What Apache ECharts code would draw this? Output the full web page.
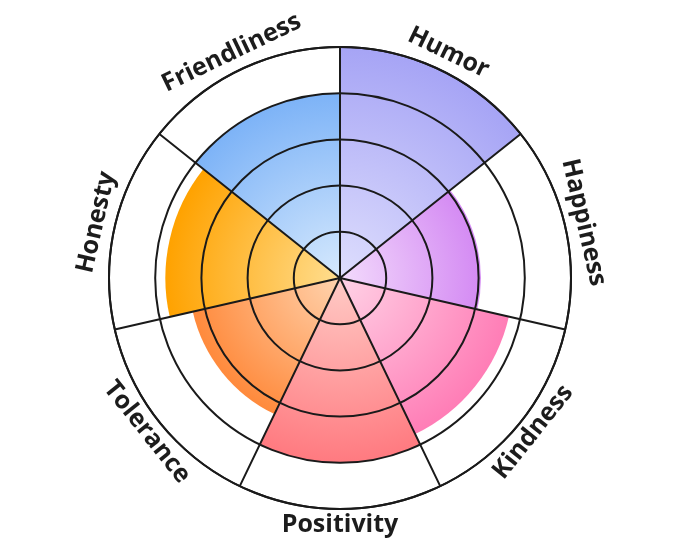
<!DOCTYPE html>
<html>
<head>
<meta charset="utf-8">
<script src="https://cdn.jsdelivr.net/npm/echarts@6/dist/echarts.min.js"></script>
<style>
html,body{margin:0;padding:0;background:#ffffff;}
#chart{width:680px;height:557px;}
</style>
</head>
<body>
<div id="chart"></div>
<script>
const categories = ['Humor', 'Happiness', 'Kindness', 'Positivity', 'Tolerance', 'Honesty', 'Friendliness'];
const values = [5, 3.05, 3.75, 4, 3.27, 3.78, 4];
const radiusMax = 5;
const innerColors = ['#dedefd', '#f3dbfc', '#ffd2e6', '#ffcbc6', '#ffd3ae', '#ffde90', '#d6e9fd'];
const outerColors = ['#a6a4f5', '#d48af3', '#ff7db6', '#ff7a80', '#ff8a3c', '#ffa200', '#7db3f7'];

const CX = 340, CY = 278, R = 231;
const chart = echarts.init(document.getElementById('chart'));

const barData = values.map((v, i) => ({
  value: v,
  itemStyle: {
    color: {
      type: 'radial', x: CX, y: CY, r: v / radiusMax * R, global: true,
      colorStops: [
        { offset: 0, color: innerColors[i] },
        { offset: 1, color: outerColors[i] }
      ]
    }
  }
}));

const lineStyle = { color: '#1a1a1a', width: 2 };

chart.setOption({
  backgroundColor: '#ffffff',
  animation: false,
  polar: { center: [CX, CY], radius: R },
  angleAxis: {
    type: 'category',
    data: categories,
    startAngle: 90,
    clockwise: true,
    z: 10,
    axisLine: { show: true, lineStyle: lineStyle },
    axisTick: { show: false },
    axisLabel: { show: false },
    splitLine: { show: true, lineStyle: lineStyle }
  },
  radiusAxis: {
    type: 'value',
    min: 0,
    max: radiusMax,
    interval: 1,
    z: 10,
    axisLine: { show: false },
    axisTick: { show: false },
    axisLabel: { show: false },
    splitLine: { show: true, lineStyle: lineStyle }
  },
  series: [
    {
      type: 'bar',
      coordinateSystem: 'polar',
      barCategoryGap: '0%',
      data: barData,
      z: 2
    },
    {
      type: 'custom',
      coordinateSystem: 'polar',
      z: 20,
      silent: true,
      data: categories.map(c => [radiusMax, c]),
      renderItem: function (params, api) {
        const idx = params.dataIndex;
        const p = api.coord([api.value(0), idx]);
        const cs = params.coordSys;
        const theta = Math.atan2(cs.cy - p[1], p[0] - cs.cx);
        const up = Math.sin(theta) >= 0;
        const dist = cs.r + (up ? 19 : 16);
        const x = cs.cx + dist * Math.cos(theta);
        const y = cs.cy - dist * Math.sin(theta);
        const rotation = up ? theta - Math.PI / 2 : theta + Math.PI / 2;
        return {
          type: 'text',
          x: x, y: y,
          rotation: rotation,
          style: {
            text: categories[idx],
            x: 0, y: 0,
            fill: '#1c1c1c',
            fontSize: 25,
            fontWeight: 'bold',
            fontFamily: '"Open Sans", "Noto Sans", sans-serif',
            align: 'center',
            verticalAlign: 'middle'
          }
        };
      }
    }
  ]
});
</script>
</body>
</html>
